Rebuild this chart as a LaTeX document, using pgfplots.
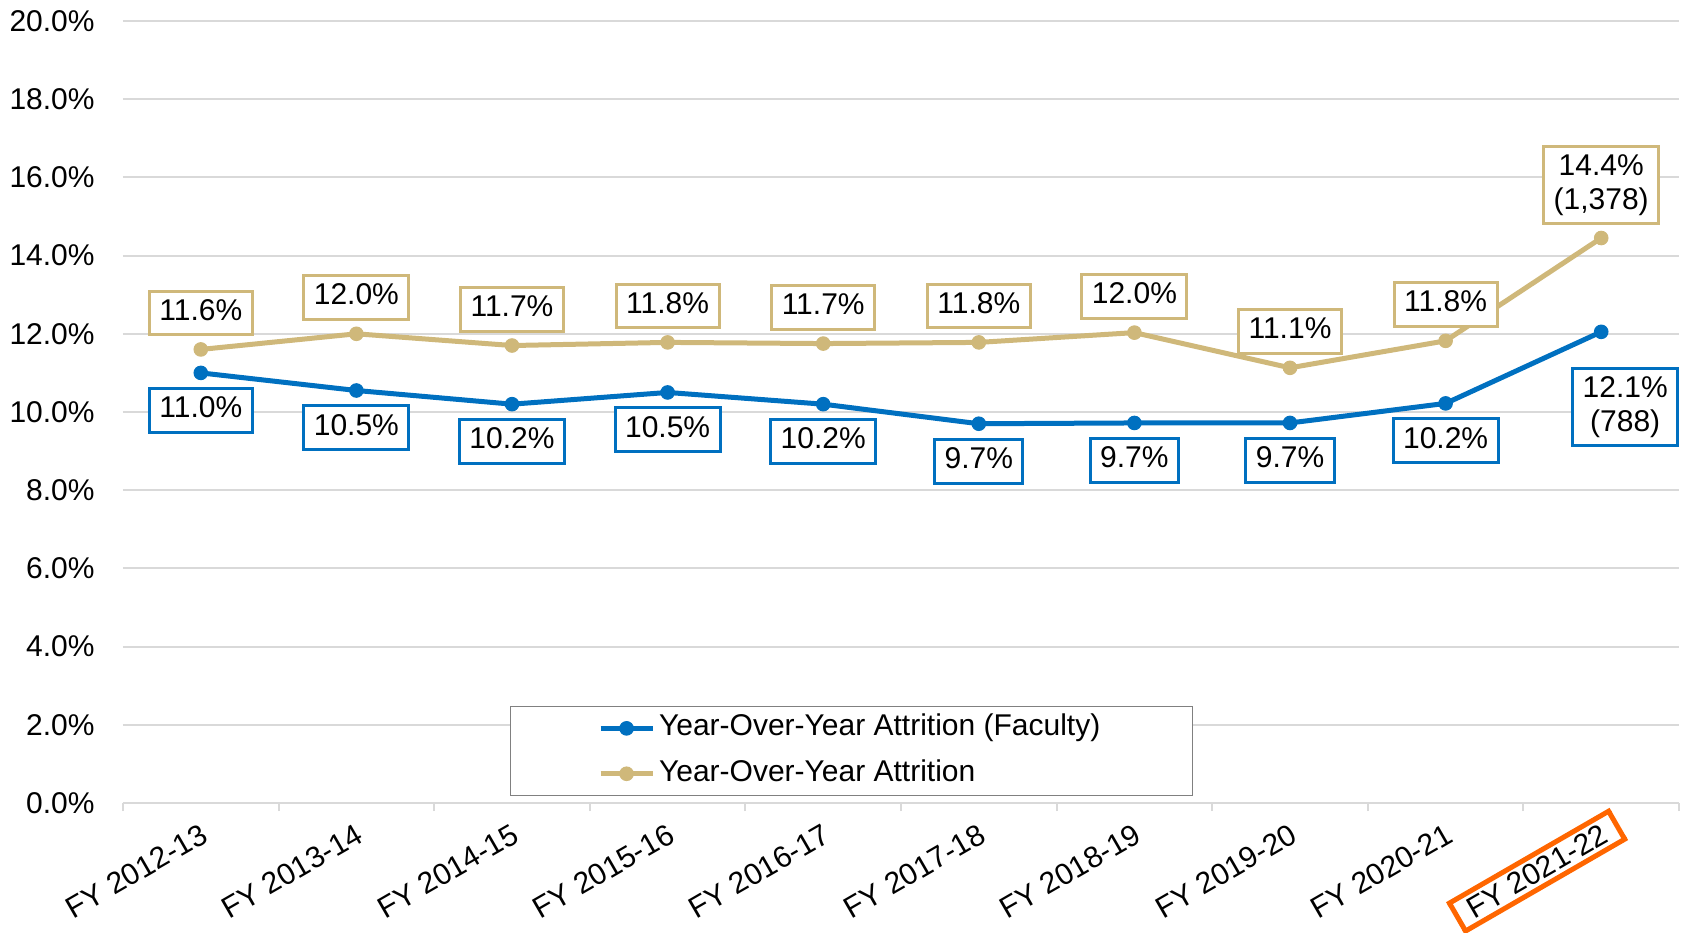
\documentclass[border=0pt]{standalone}
\usepackage{pgfplots}
\pgfplotsset{compat=1.18}
\usepackage{fontspec}
\setmainfont{Liberation Sans}
\definecolor{fblue}{RGB}{0,112,192}
\definecolor{ftan}{RGB}{207,184,122}
\definecolor{gridgray}{RGB}{217,217,217}
\definecolor{forange}{RGB}{255,102,0}
\definecolor{leggray}{RGB}{128,128,128}
\newcommand{\cf}{\fontsize{15}{17}\selectfont}
\newcommand{\orangelabel}[1]{\phantom{#1}\llap{\raisebox{0pt}[0pt][0pt]{\setlength{\fboxrule}{2.5pt}\setlength{\fboxsep}{1.5pt}\fcolorbox{forange}{white}{\hspace{4pt}#1\hspace{4pt}}}\hspace{-8pt}}}
\tikzset{lbl/.style={font=\cf, fill=white, line width=1.5pt, inner xsep=5pt, inner ysep=3.6pt, text height=11pt, text depth=3.7pt, text=black}}
\begin{document}
\begin{tikzpicture}
\useasboundingbox (-61.5pt,-64.5pt) rectangle (784.5pt,401.5pt);
\begin{axis}[
  scale only axis, width=778pt, height=391pt,
  xmin=-0.5, xmax=9.5, ymin=0, ymax=20,
  axis x line*=bottom, axis y line*=left,
  y axis line style={draw=none},
  x axis line style={gridgray, line width=1pt, -},
  ymajorgrids, grid style={gridgray, line width=1pt},
  ytick={0,2,...,20},
  yticklabels={0.0\%,2.0\%,4.0\%,6.0\%,8.0\%,10.0\%,12.0\%,14.0\%,16.0\%,18.0\%,20.0\%},
  ytick style={draw=none},
  xtick={0,...,9},
  xticklabels={FY 2012-13,FY 2013-14,FY 2014-15,FY 2015-16,FY 2016-17,FY 2017-18,FY 2018-19,FY 2019-20,FY 2020-21,{\orangelabel{FY 2021-22}}},
  major tick length=0pt,
  extra x ticks={-0.5,0.5,...,9.5},
  extra x tick labels={},
  extra x tick style={major tick length=4pt, tick align=outside, tick style={gridgray, line width=1pt}, grid=none},
  tick label style={font=\cf, black},
  yticklabel style={inner sep=0pt, xshift=-14pt},
  xticklabel style={anchor=north east, inner sep=0pt, xshift=-0.7pt, yshift=-9.6pt, rotate=30},
  legend style={at={(0.468,0.009)}, anchor=south, draw=leggray, line width=0.5pt,
    inner xsep=44pt, inner ysep=1.5pt, row sep=4pt, font=\cf,
    nodes={inner sep=2pt, text height=11pt, text depth=3.7pt}},
  legend cell align=left,
  legend image code/.code={\draw[mark repeat=2, mark phase=2, #1] plot coordinates {(0pt,0pt) (13pt,0pt) (26pt,0pt)};},
]
% labels (drawn first so the lines pass over them)
\addplot[draw=none, mark=none, forget plot, nodes near coords, point meta=explicit symbolic,
  nodes near coords align={below},
  every node near coord/.append style={lbl, draw=fblue, yshift=-7pt}]
  coordinates {(0,11.0) [11.0\%] (1,10.55) [10.5\%] (2,10.2) [10.2\%] (3,10.5) [10.5\%] (4,10.2) [10.2\%]
  (5,9.7) [9.7\%] (6,9.72) [9.7\%] (7,9.72) [9.7\%] (8,10.22) [10.2\%]};
\addplot[draw=none, mark=none, forget plot, nodes near coords={12.1\%\\(788)},
  nodes near coords align={below},
  every node near coord/.append style={lbl, draw=fblue, align=center, text height=, text depth=, inner ysep=4pt, xshift=12pt, yshift=-17.5pt}]
  coordinates {(9,12.05)};
\addplot[draw=none, mark=none, forget plot, nodes near coords, point meta=explicit symbolic,
  nodes near coords align={above},
  every node near coord/.append style={lbl, draw=ftan, yshift=6.5pt}]
  coordinates {(0,11.6) [11.6\%] (1,12.0) [12.0\%] (2,11.7) [11.7\%] (3,11.78) [11.8\%] (4,11.75) [11.7\%]
  (5,11.78) [11.8\%] (6,12.03) [12.0\%] (7,11.13) [11.1\%] (8,11.82) [11.8\%]};
\addplot[draw=none, mark=none, forget plot, nodes near coords={14.4\%\\(1{,}378)},
  nodes near coords align={above},
  every node near coord/.append style={lbl, draw=ftan, align=center, text height=, text depth=, inner ysep=4pt, yshift=6.5pt}]
  coordinates {(9,14.45)};
% lines
\addplot[fblue, line width=2.5pt, mark=*, mark size=3.4pt, mark options={solid, fill=fblue, line width=0.5pt}]
  coordinates {(0,11.0) (1,10.55) (2,10.2) (3,10.5) (4,10.2) (5,9.7) (6,9.72) (7,9.72) (8,10.22) (9,12.05)};
\addlegendentry{Year-Over-Year Attrition (Faculty)}
\addplot[ftan, line width=2.5pt, mark=*, mark size=3.4pt, mark options={solid, fill=ftan, line width=0.5pt}]
  coordinates {(0,11.6) (1,12.0) (2,11.7) (3,11.78) (4,11.75) (5,11.78) (6,12.03) (7,11.13) (8,11.82) (9,14.45)};
\addlegendentry{Year-Over-Year Attrition}
\end{axis}
\end{tikzpicture}
\end{document}
